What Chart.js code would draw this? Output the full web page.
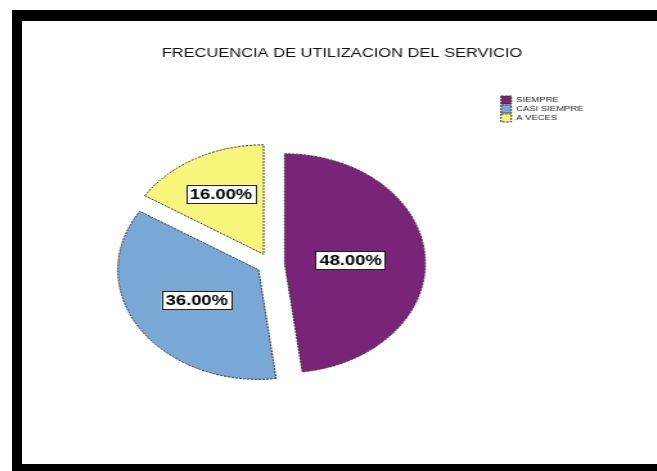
<!DOCTYPE html>
<html>
<head>
<meta charset="utf-8">
<script src="https://cdn.jsdelivr.net/npm/chart.js@4/dist/chart.umd.min.js"></script>
<style>
  html { background: #fff; }
  html, body { margin: 0; padding: 0; overflow: hidden; width: 657px; height: 471px; }
  #clip { position: relative; width: 657px; height: 471px; overflow: hidden; background: #fff; }
  #frame { position: absolute; left: 12px; top: 10px; width: 635px; height: 443px; overflow: hidden;
           border-left: 10px solid #000; border-top: 11px solid #000; border-bottom: 10px solid #000; border-right: none;
           background: #fff; }
  #c { position: absolute; left: 0; top: 0; width: 498px; height: 443px;
       transform-origin: 0 0; transform: scaleX(1.2851); }
</style>
</head>
<body>
<div id="clip"><div id="frame"><canvas id="c" width="498" height="443"></canvas></div></div>
<script>
const chartTitle = 'FRECUENCIA DE UTILIZACION DEL SERVICIO';
const categories = ['SIEMPRE', 'CASI SIEMPRE', 'A VECES'];
const percentages = [48, 36, 16];

const sliceColors = ['#7A2479', '#7AA8D6', '#F8F67A'];
const EXPLODE = 11;
const LABEL_FRACTIONS = [0.47, 0.52, 0.63];
const FONT = "'Liberation Sans', Arial, sans-serif";

// keep the title centred over the whole frame (not only over the padded area)
const titleSpanPlugin = {
  id: 'titleSpan',
  afterLayout(chart) {
    const t = chart.titleBlock;
    if (t) { t.left = 0; t.right = chart.width; t.width = chart.width; }
  }
};

const explodePlugin = {
  id: 'explode',
  beforeDatasetDraw(chart, args) {
    const ctx = chart.ctx;
    args.meta.data.forEach((arc) => {
      const mid = (arc.startAngle + arc.endAngle) / 2;
      ctx.save();
      ctx.translate(Math.cos(mid) * EXPLODE, Math.sin(mid) * EXPLODE);
      arc.draw(ctx, chart.chartArea);
      ctx.restore();
    });
    return false;
  }
};

const labelPlugin = {
  id: 'pctLabels',
  afterDatasetsDraw(chart) {
    const ctx = chart.ctx;
    const meta = chart.getDatasetMeta(0);
    const data = chart.data.datasets[0].data;
    const total = data.reduce((a, b) => a + b, 0);
    ctx.save();
    ctx.font = 'bold 14.3px ' + FONT;
    ctx.textAlign = 'center';
    ctx.textBaseline = 'middle';
    meta.data.forEach((arc, i) => {
      const mid = (arc.startAngle + arc.endAngle) / 2;
      const dist = EXPLODE + LABEL_FRACTIONS[i] * arc.outerRadius;
      const x = arc.x + Math.cos(mid) * dist;
      const y = arc.y + Math.sin(mid) * dist;
      const txt = (data[i] / total * 100).toFixed(2) + '%';
      const w = ctx.measureText(txt).width + 6;
      const h = 18;
      ctx.fillStyle = '#ffffff';
      ctx.fillRect(x - w / 2, y - h / 2, w, h);
      ctx.strokeStyle = '#222';
      ctx.lineWidth = 1;
      ctx.strokeRect(Math.round(x - w / 2) + 0.5, Math.round(y - h / 2) + 0.5, Math.round(w), h);
      ctx.fillStyle = '#000';
      ctx.fillText(txt, x, y + 1);
    });
    ctx.restore();
  }
};

new Chart(document.getElementById('c'), {
  type: 'pie',
  data: {
    labels: categories,
    datasets: [{
      data: percentages,
      backgroundColor: sliceColors,
      borderColor: '#333333',
      borderWidth: 1,
      borderDash: [2, 1],
      offset: 0
    }]
  },
  options: {
    responsive: false,
    animation: false,
    devicePixelRatio: 1,
    radius: 109.5,
    layout: { padding: { left: 15, right: 51, top: 0, bottom: 31 } },
    plugins: {
      title: {
        display: true,
        text: chartTitle,
        color: '#111111',
        font: { family: FONT, size: 12.8, weight: 'normal' },
        padding: { top: 25, bottom: 33.6 }
      },
      legend: {
        display: true,
        position: 'right',
        align: 'start',
        fullSize: false,
        labels: {
          boxWidth: 8,
          boxHeight: 8,
          padding: 1,
          color: '#222',
          font: { family: FONT, size: 7.4 }
        }
      },
      tooltip: { enabled: false }
    }
  },
  plugins: [titleSpanPlugin, explodePlugin, labelPlugin]
});
</script>
</body>
</html>
